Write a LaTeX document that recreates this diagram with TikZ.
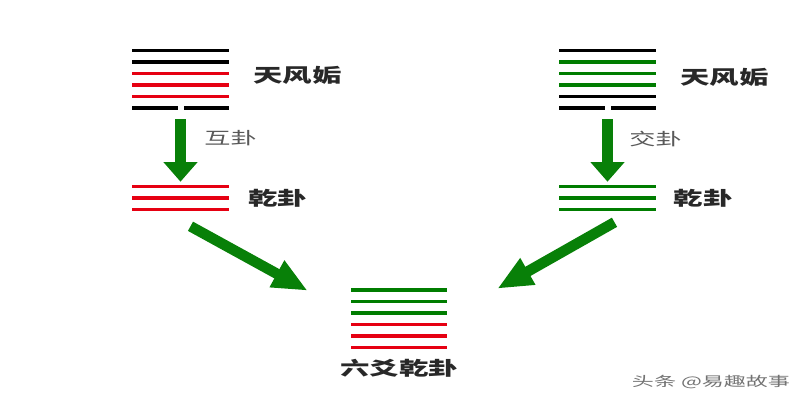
\documentclass[tikz,border=0pt]{standalone}
\usepackage{graphicx}
\usepackage{fontspec}
\newfontfamily\cjk{Noto Sans CJK SC}
\usetikzlibrary{arrows.meta}
\usetikzlibrary{positioning}
\definecolor{yaored}{RGB}{230,0,18}
\definecolor{yaogreen}{RGB}{0,125,0}
\definecolor{arrowgreen}{RGB}{8,128,8}
\definecolor{labelgray}{RGB}{40,40,40}
\newcommand{\wide}[1]{\scalebox{1.55}[1]{#1}}
\tikzset{
  yao/.style = {line width=2.8pt},% one line of a hexagram
  hexbox/.style = {inner sep=0pt, minimum width=2.45cm, minimum height=1.6cm},% box round six lines
  tribox/.style = {inner sep=0pt, minimum width=2.45cm, minimum height=0.8cm},% box round three lines
  guaname/.style = {inner sep=0pt, font=\cjk\bfseries\fontsize{13.5}{14}\selectfont,
    text=labelgray},
  stepname/.style = {inner sep=0pt, font=\cjk\fontsize{12}{12}\selectfont, text=black!65},
  downarrow/.style = {draw=arrowgreen, line width=8.5pt,
    -{Triangle[width=23.5pt,length=14pt]}},
  slantarrow/.style = {draw=arrowgreen, line width=7.5pt,
    -{Triangle[width=20pt,length=25pt]}}
}

\begin{document}
\begin{tikzpicture}[x=0.025cm, y=-0.025cm]
\useasboundingbox (0,0) rectangle (800,400);
% left: 天风姤 and its 互卦
\foreach \col [count=\i] in {black,black,yaored,yaored,yaored}
  \draw[yao,\col] (132,{39+11.5*\i}) -- (229,{39+11.5*\i});
\draw[yao] (132,108) -- (178,108) (184,108) -- (229,108);
\node[hexbox] (gouL) at (180.5,79) {};
\node[guaname, right=0.58cm of gouL, yshift=0.1cm] (gouLname) {\wide{天风姤}};
\foreach \i in {0,1,2}
  \draw[yao,yaored] (132,{186.5+11.5*\i}) -- (229,{186.5+11.5*\i});
\node[tribox] (qianL) at (180.5,198) {};
\node[guaname, right=0.45cm of qianL] (qianLname) {\wide{乾卦}};
\draw[downarrow, shorten <=0.2cm] (gouL.south) --
  node[stepname, pos=0.38, right=0.45cm] (huname) {\wide{互卦}} (qianL.north);
% right: 天风姤 and its 交卦
\foreach \col [count=\i] in {black,yaogreen,yaogreen,yaogreen,black}
  \draw[yao,\col] (559,{39+11.5*\i}) -- (656,{39+11.5*\i});
\draw[yao] (559,108) -- (605,108) (611,108) -- (656,108);
\node[hexbox] (gouR) at (607.5,79) {};
\node[guaname, right=0.58cm of gouR, yshift=0.05cm] (gouRname) {\wide{天风姤}};
\foreach \i in {0,1,2}
  \draw[yao,yaogreen] (559,{186.5+11.5*\i}) -- (656,{186.5+11.5*\i});
\node[tribox] (qianR) at (607.5,198) {};
\node[guaname, right=0.42cm of qianR] (qianRname) {\wide{乾卦}};
\draw[downarrow, shorten <=0.2cm] (gouR.south) --
  node[stepname, pos=0.4, right=0.4cm] (jiaoname) {\wide{交卦}} (qianR.north);
% bottom: 六爻乾卦
\foreach \col [count=\i] in {yaogreen,yaogreen,yaogreen,yaored,yaored,yaored}
  \draw[yao,\col] (351,{278.5+11.5*\i}) -- (447,{278.5+11.5*\i});
\node[hexbox] (hexC) at (399,319) {};
\node[guaname, below=0.2cm of hexC] (hexCname) {\wide{六爻乾卦}};
\draw[slantarrow] ([shift={(10,12)}]qianL.south) -- ([shift={(-42,4)}]hexC.north west);
\draw[slantarrow] ([shift={(7,8)}]qianR.south) -- ([shift={(49,2)}]hexC.north east);
% watermark
\node[inner sep=0pt, font=\cjk\fontsize{9.5}{10}\selectfont, text=black!55] (mark)
  at (711,382) {\scalebox{1.65}[1]{头条 @易趣故事}};
\end{tikzpicture}
\end{document}
